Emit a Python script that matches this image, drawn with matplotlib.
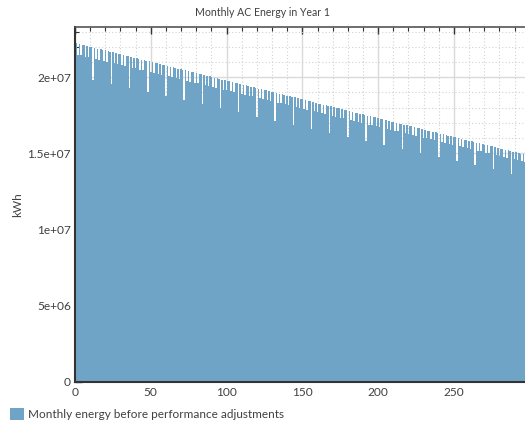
import numpy as np
import matplotlib.pyplot as plt
from matplotlib.ticker import MultipleLocator, FuncFormatter
from matplotlib.patches import Patch

# monthly AC energy, millions of kWh, one row per 12 months
energy_1e6 = [
    20.10, 22.23, 21.48, 22.18, 21.44, 22.13, 22.10, 21.36, 22.05, 21.32, 22.00, 21.98,
    19.83, 21.93, 21.20, 21.88, 21.15, 21.83, 21.81, 21.08, 21.76, 21.03, 21.71, 21.68,
    19.56, 21.63, 20.91, 21.58, 20.86, 21.53, 21.51, 20.79, 21.46, 20.74, 21.41, 21.39,
    19.29, 21.34, 20.62, 21.29, 20.58, 21.24, 21.21, 20.50, 21.16, 20.46, 21.11, 21.09,
    19.03, 21.04, 20.34, 20.99, 20.29, 20.94, 20.92, 20.22, 20.87, 20.17, 20.82, 20.79,
    18.76, 20.74, 20.05, 20.69, 20.00, 20.64, 20.62, 19.93, 20.57, 19.88, 20.52, 20.50,
    18.49, 20.45, 19.76, 20.40, 19.71, 20.35, 20.32, 19.64, 20.27, 19.60, 20.22, 20.20,
    18.22, 20.15, 19.48, 20.10, 19.43, 20.05, 20.03, 19.36, 19.98, 19.31, 19.93, 19.90,
    17.95, 19.85, 19.19, 19.80, 19.14, 19.76, 19.73, 19.07, 19.68, 19.02, 19.63, 19.61,
    17.69, 19.56, 18.90, 19.51, 18.85, 19.46, 19.43, 18.78, 19.38, 18.74, 19.34, 19.31,
    17.42, 19.26, 18.62, 19.21, 18.57, 19.16, 19.14, 18.50, 19.09, 18.45, 19.04, 19.01,
    17.15, 18.96, 18.33, 18.92, 18.28, 18.87, 18.84, 18.21, 18.79, 18.16, 18.74, 18.72,
    16.88, 18.67, 18.04, 18.62, 17.99, 18.57, 18.55, 17.92, 18.50, 17.87, 18.45, 18.42,
    16.62, 18.37, 17.76, 18.32, 17.71, 18.27, 18.25, 17.64, 18.20, 17.59, 18.15, 18.13,
    16.35, 18.08, 17.47, 18.03, 17.42, 17.98, 17.95, 17.35, 17.90, 17.30, 17.85, 17.83,
    16.08, 17.78, 17.18, 17.73, 17.13, 17.68, 17.66, 17.06, 17.61, 17.01, 17.56, 17.53,
    15.81, 17.48, 16.89, 17.43, 16.85, 17.38, 17.36, 16.78, 17.31, 16.73, 17.26, 17.24,
    15.55, 17.19, 16.61, 17.14, 16.56, 17.09, 17.06, 16.49, 17.01, 16.44, 16.96, 16.94,
    15.28, 16.89, 16.32, 16.84, 16.27, 16.79, 16.77, 16.20, 16.72, 16.15, 16.67, 16.64,
    15.01, 16.59, 16.03, 16.54, 15.99, 16.49, 16.47, 15.91, 16.42, 15.87, 16.37, 16.35,
    14.74, 16.30, 15.75, 16.25, 15.70, 16.20, 16.17, 15.63, 16.12, 15.58, 16.08, 16.05,
    14.47, 16.00, 15.46, 15.95, 15.41, 15.90, 15.88, 15.34, 15.83, 15.29, 15.78, 15.75,
    14.21, 15.70, 15.17, 15.66, 15.13, 15.61, 15.58, 15.05, 15.53, 15.01, 15.48, 15.46,
    13.94, 15.41, 14.89, 15.36, 14.84, 15.31, 15.28, 14.77, 15.24, 14.72, 15.19, 15.16,
    13.67, 15.11, 14.60, 15.06, 14.55, 15.01, 14.99, 14.48, 14.94, 14.43, 14.89, 14.86,
]
energy = np.array(energy_1e6) * 1e6
month_idx = np.arange(len(energy))

title = 'Monthly AC Energy in Year 1'
series_label = 'Monthly energy before performance adjustments'
ylabel = 'kWh'

bar_color = '#6fa4c7'
text_color = '#404040'

plt.rcParams['font.family'] = ['Lato', 'DejaVu Sans']

fig = plt.figure(figsize=(5.25, 4.24), dpi=100)
ax = fig.add_axes([75 / 525, 42.3 / 424, 454 / 525, 354.7 / 424])

ax.bar(month_idx, energy, width=1.0, color=bar_color, linewidth=0, zorder=2)

ax.set_xlim(0, 299.5)
ax.set_ylim(0, 2.33e7)

ax.xaxis.set_major_locator(MultipleLocator(50))
ax.xaxis.set_minor_locator(MultipleLocator(10))
ax.yaxis.set_major_locator(MultipleLocator(5e6))
ax.yaxis.set_minor_locator(MultipleLocator(1e6))


def sci_fmt(v, pos):
    # 2e+07, 1.5e+07, 5e+06 style
    if v == 0:
        return '0'
    return ('%.1e' % v).replace('.0e', 'e')


ax.yaxis.set_major_formatter(FuncFormatter(sci_fmt))

ax.grid(which='major', color='#dadada', linewidth=1.0, linestyle='-', zorder=0)
ax.grid(which='minor', color='#d2d2d2', linewidth=0.8, linestyle=(0, (1, 2)), zorder=0)
ax.set_axisbelow(True)

ax.tick_params(which='both', direction='in', top=True, right=False, colors='#333333',
               labelcolor=text_color, labelsize=8.6)
ax.tick_params(which='major', length=5, width=1)
ax.tick_params(which='minor', length=3, width=0.8)
ax.tick_params(axis='x', pad=4)
ax.tick_params(axis='y', pad=3)

for side in ['left', 'bottom']:
    ax.spines[side].set_color('#333333')
    ax.spines[side].set_linewidth(1.5)
ax.spines['top'].set_color('#555555')
ax.spines['top'].set_linewidth(1.2)
ax.spines['right'].set_visible(False)

ax.set_ylabel(ylabel, color=text_color, fontsize=8.5, labelpad=3)

fig.text(0.5, 1 - 12 / 424, title, ha='center', va='center', color=text_color, fontsize=7.6)

handle = Patch(facecolor=bar_color, edgecolor='none', label=series_label)
fig.legend(handles=[handle], loc='lower left', bbox_to_anchor=(-0.002, -0.016), frameon=False,
           fontsize=8.5, handlelength=1.2, handleheight=1.2, handletextpad=0.35,
           labelcolor=text_color)

fig.savefig('out.png', dpi=100)
